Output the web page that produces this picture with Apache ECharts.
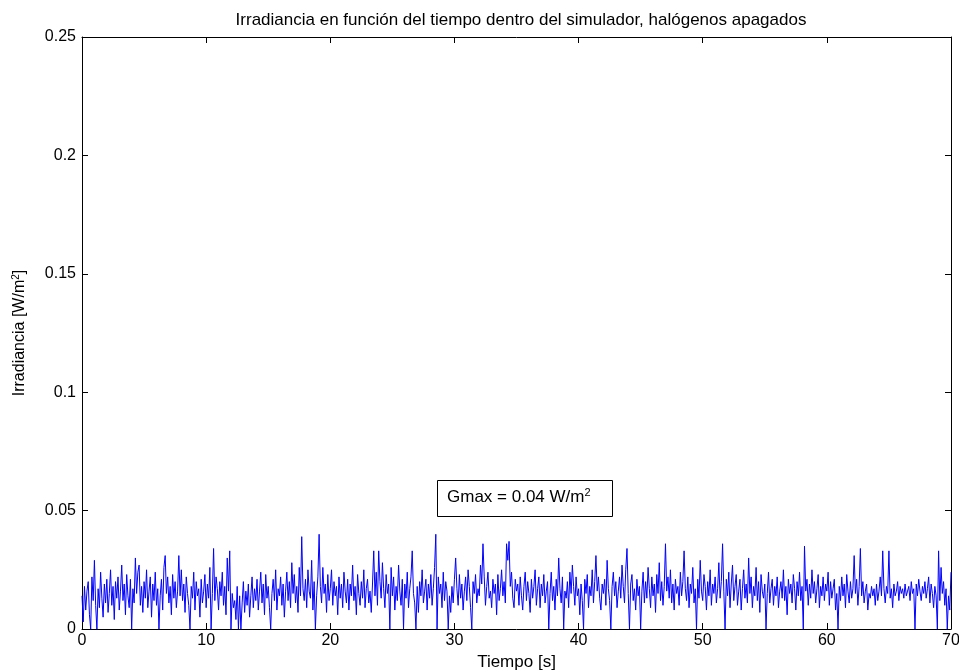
<!DOCTYPE html>
<html>
<head>
<meta charset="utf-8">
<script src="https://cdn.jsdelivr.net/npm/echarts@6/dist/echarts.min.js"></script>
<style>html,body{margin:0;padding:0;background:#fff;overflow:hidden}#c{width:959px;height:672px}</style>
</head>
<body>
<div id="c"></div>
<script>
const titleText = 'Irradiancia en función del tiempo dentro del simulador, halógenos apagados';
const xTicks = [0, 10, 20, 30, 40, 50, 60, 70];
const yTicks = [0, 0.05, 0.1, 0.15, 0.2, 0.25];
const sampleStep = 0.1; // seconds between samples
const annotationText = 'Gmax = 0.04 W/m{sup|2}';
// Irradiance samples (W/m^2), one every 0.1 s from 0 to 70 s
const irradiance = [
0.014,0.003,0.018,0.008,0.016,0.020,0.006,0.000,0.022,0.012,
0.029,0.010,0.000,0.017,0.009,0.024,0.013,0.005,0.019,0.011,
0.021,0.007,0.015,0.025,0.010,0.018,0.004,0.020,0.013,0.022,
0.008,0.016,0.027,0.012,0.019,0.006,0.023,0.014,0.009,0.021,
0.000,0.017,0.011,0.030,0.015,0.024,0.027,0.010,0.018,0.007,
0.020,0.013,0.025,0.009,0.016,0.022,0.005,0.019,0.012,0.024,
0.010,0.017,0.000,0.014,0.021,0.008,0.026,0.031,0.015,0.022,
0.011,0.018,0.006,0.023,0.013,0.020,0.009,0.016,0.031,0.014,
0.025,0.012,0.019,0.007,0.022,0.015,0.010,0.000,0.018,0.013,
0.024,0.008,0.020,0.014,0.017,0.005,0.021,0.011,0.016,0.023,
0.009,0.019,0.013,0.026,0.000,0.015,0.034,0.012,0.022,0.017,
0.008,0.020,0.014,0.024,0.010,0.018,0.006,0.030,0.016,0.033,
0.000,0.015,0.009,0.012,0.004,0.018,0.000,0.014,0.000,0.011,
0.020,0.007,0.016,0.010,0.019,0.005,0.014,0.022,0.009,0.017,
0.012,0.021,0.008,0.016,0.024,0.011,0.019,0.006,0.023,0.013,
0.018,0.009,0.000,0.015,0.021,0.012,0.025,0.008,0.017,0.014,
0.022,0.010,0.019,0.005,0.016,0.024,0.012,0.020,0.009,0.028,
0.015,0.023,0.011,0.018,0.007,0.026,0.014,0.039,0.017,0.012,
0.021,0.009,0.025,0.016,0.013,0.029,0.008,0.020,0.000,0.014,
0.022,0.040,0.018,0.011,0.026,0.015,0.019,0.007,0.023,0.012,
0.017,0.025,0.010,0.020,0.014,0.018,0.006,0.022,0.013,0.019,
0.009,0.024,0.016,0.011,0.021,0.008,0.019,0.014,0.027,0.012,
0.018,0.006,0.023,0.015,0.010,0.020,0.013,0.025,0.009,0.017,
0.021,0.011,0.016,0.007,0.019,0.033,0.014,0.024,0.010,0.033,
0.020,0.013,0.028,0.017,0.009,0.023,0.015,0.019,0.000,0.026,
0.014,0.022,0.008,0.018,0.012,0.027,0.016,0.010,0.021,0.000,
0.019,0.013,0.024,0.009,0.017,0.022,0.033,0.015,0.011,0.000,
0.018,0.007,0.020,0.014,0.025,0.011,0.016,0.021,0.008,0.019,
0.013,0.023,0.010,0.017,0.026,0.040,0.000,0.022,0.015,0.019,
0.009,0.024,0.012,0.020,0.016,0.000,0.014,0.007,0.018,0.011,
0.021,0.030,0.017,0.010,0.023,0.013,0.019,0.008,0.016,0.022,
0.012,0.025,0.018,0.009,0.000,0.020,0.015,0.023,0.011,0.017,
0.014,0.027,0.019,0.036,0.022,0.010,0.018,0.024,0.013,0.016,
0.009,0.021,0.015,0.019,0.006,0.023,0.012,0.017,0.025,0.014,
0.020,0.011,0.036,0.029,0.037,0.018,0.024,0.013,0.009,0.021,
0.016,0.019,0.010,0.022,0.014,0.008,0.018,0.024,0.012,0.020,
0.015,0.007,0.021,0.013,0.018,0.025,0.010,0.017,0.022,0.009,
0.019,0.014,0.023,0.011,0.016,0.020,0.000,0.015,0.024,0.012,
0.018,0.008,0.021,0.014,0.030,0.017,0.011,0.022,0.000,0.016,
0.013,0.020,0.009,0.024,0.015,0.027,0.018,0.010,0.022,0.014,
0.017,0.006,0.019,0.012,0.000,0.021,0.015,0.023,0.009,0.018,
0.014,0.025,0.011,0.020,0.031,0.016,0.022,0.013,0.008,0.019,
0.015,0.021,0.010,0.029,0.017,0.012,0.000,0.018,0.024,0.014,
0.020,0.009,0.016,0.022,0.013,0.027,0.018,0.011,0.025,0.034,
0.015,0.000,0.019,0.023,0.012,0.017,0.008,0.021,0.014,0.018,
0.000,0.016,0.024,0.011,0.020,0.013,0.026,0.017,0.009,0.022,
0.014,0.019,0.007,0.023,0.015,0.028,0.012,0.020,0.010,0.018,
0.036,0.016,0.022,0.013,0.025,0.011,0.019,0.008,0.021,0.015,
0.018,0.010,0.024,0.014,0.020,0.033,0.017,0.012,0.022,0.009,
0.019,0.015,0.026,0.011,0.017,0.000,0.021,0.013,0.029,0.016,
0.012,0.023,0.018,0.008,0.020,0.014,0.025,0.010,0.019,0.015,
0.022,0.011,0.017,0.028,0.013,0.020,0.036,0.016,0.000,0.021,
0.014,0.024,0.009,0.019,0.027,0.012,0.018,0.023,0.010,0.016,
0.021,0.008,0.017,0.025,0.013,0.019,0.011,0.030,0.015,0.022,
0.009,0.018,0.014,0.026,0.012,0.020,0.007,0.023,0.016,0.013,
0.019,0.000,0.015,0.024,0.011,0.017,0.021,0.010,0.018,0.014,
0.022,0.009,0.016,0.020,0.013,0.025,0.012,0.018,0.006,0.021,
0.015,0.019,0.011,0.023,0.017,0.008,0.020,0.014,0.024,0.012,
0.018,0.000,0.035,0.016,0.021,0.010,0.019,0.013,0.025,0.015,
0.020,0.011,0.017,0.023,0.009,0.018,0.014,0.022,0.012,0.019,
0.016,0.024,0.010,0.020,0.013,0.017,0.021,0.008,0.015,0.000,
0.018,0.012,0.022,0.014,0.019,0.009,0.023,0.016,0.011,0.020,
0.013,0.017,0.031,0.015,0.021,0.010,0.018,0.034,0.014,0.020,
0.011,0.016,0.019,0.008,0.015,0.013,0.018,0.014,0.017,0.010,
0.019,0.012,0.016,0.022,0.014,0.033,0.017,0.011,0.018,0.015,
0.033,0.013,0.017,0.009,0.019,0.014,0.016,0.020,0.012,0.018,
0.015,0.017,0.013,0.019,0.014,0.016,0.018,0.012,0.020,0.015,
0.017,0.000,0.019,0.014,0.021,0.016,0.012,0.018,0.015,0.020,
0.013,0.017,0.022,0.011,0.019,0.015,0.009,0.018,0.014,0.000,
0.033,0.012,0.026,0.015,0.020,0.010,0.017,0.000,0.014,0.008,
0.024
];
const points = irradiance.map((v, i) => [Math.round(i * sampleStep * 10) / 10, v]);

const font = '"Liberation Sans", Arial, sans-serif';
const chart = echarts.init(document.getElementById('c'), null, {renderer: 'canvas', width: 959, height: 672});
const tickStyle = {show: true, inside: true, length: 6, lineStyle: {color: '#000', width: 1}};
const lineStyle = {show: true, onZero: false, lineStyle: {color: '#000', width: 1}};
chart.setOption({
  animation: false,
  backgroundColor: '#fff',
  title: {
    text: titleText, left: 516, top: 7, textAlign: 'center',
    textStyle: {fontFamily: font, fontSize: 17, fontWeight: 'normal', color: '#000'}
  },
  grid: {left: 82, top: 37, width: 869, height: 592, containLabel: false, outerBoundsMode: 'none'},
  xAxis: [{
    type: 'value', min: 0, max: 70, interval: 10, position: 'bottom',
    name: 'Tiempo [s]', nameLocation: 'middle', nameGap: 25,
    nameTextStyle: {fontFamily: font, fontSize: 17, color: '#000'},
    axisLine: lineStyle, axisTick: tickStyle, splitLine: {show: false},
    axisLabel: {fontFamily: font, fontSize: 16, color: '#000', margin: 4}
  }, {
    type: 'value', min: 0, max: 70, interval: 10, position: 'top',
    axisLine: lineStyle, axisTick: tickStyle, splitLine: {show: false},
    axisLabel: {show: false}
  }],
  yAxis: [{
    type: 'value', min: 0, max: 0.25, interval: 0.05, position: 'left',
    name: 'Irradiancia [W/m{sup|2}]', nameLocation: 'middle', nameGap: 53, nameRotate: 90,
    nameTextStyle: {fontFamily: font, fontSize: 16, color: '#000',
      rich: {sup: {fontFamily: font, fontSize: 10, color: '#000', padding: [0, 0, 8, 0]}}},
    axisLine: lineStyle, axisTick: tickStyle, splitLine: {show: false},
    axisLabel: {fontFamily: font, fontSize: 16, color: '#000', margin: 6,
      formatter: v => String(Math.round(v * 100) / 100)}
  }, {
    type: 'value', min: 0, max: 0.25, interval: 0.05, position: 'right',
    axisLine: lineStyle, axisTick: tickStyle, splitLine: {show: false},
    axisLabel: {show: false}
  }],
  series: [{
    type: 'line', data: points, showSymbol: false, symbol: 'none',
    lineStyle: {color: '#0000ff', width: 1}, itemStyle: {color: '#0000ff'},
    silent: true
  }],
  graphic: [{
    type: 'rect', left: 437, top: 480, shape: {width: 175, height: 36},
    style: {fill: '#fff', stroke: '#000', lineWidth: 1}, z: 100
  }, {
    type: 'text', left: 447, top: 487, z: 101,
    style: {
      text: annotationText,
      rich: {sup: {fontFamily: font, fontSize: 11, fill: '#000', padding: [0, 0, 9, 0]}},
      font: '17px ' + font, fill: '#000'
    }
  }]
});
</script>
</body>
</html>
